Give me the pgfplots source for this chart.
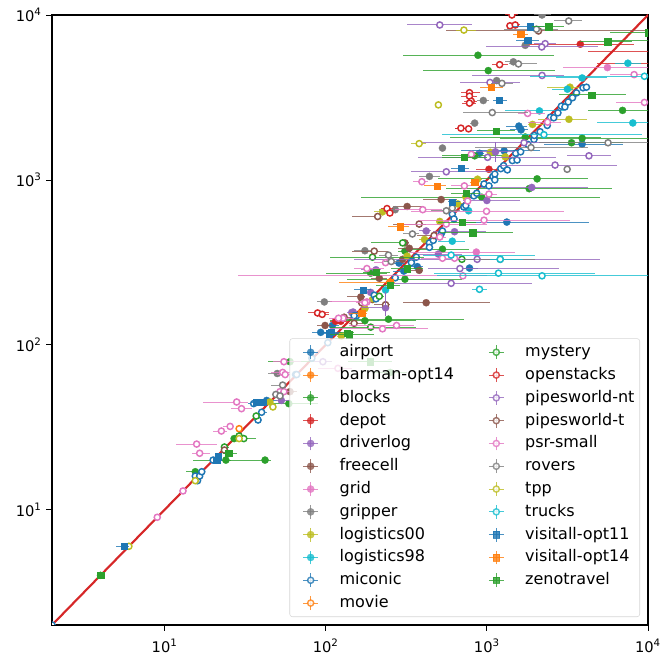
\documentclass[border=0pt]{standalone}
\usepackage{pgfplots}
\usepackage{pgfplotstable}
\usepackage{fontspec}
\setmainfont{DejaVu Sans}
\pgfplotsset{compat=1.18}
\definecolor{cblue}{HTML}{1F77B4}
\definecolor{corange}{HTML}{FF7F0E}
\definecolor{cgreen}{HTML}{2CA02C}
\definecolor{cred}{HTML}{D62728}
\definecolor{cpurple}{HTML}{9467BD}
\definecolor{cbrown}{HTML}{8C564B}
\definecolor{cpink}{HTML}{E377C2}
\definecolor{cgray}{HTML}{7F7F7F}
\definecolor{colive}{HTML}{BCBD22}
\definecolor{ccyan}{HTML}{17BECF}
\pgfplotstableread{
x y xl xh
1580 2120 1310 1780
1630 2010 1400 1800
3900 1650 2250 7000
1280 1500 690 2150
900 1450 830 960
1330 555 680 4300
370 298 300 400
285 313 255 310
305 280 260 330
780 292 640 880
110 131 100 120
93 119 82 104
43 46 36 50
}\tairport
\pgfplotstableread{
x y xl xh
250 240 250 250
}\tbarman
\pgfplotstableread{
x y xl xh
880 5700 300 2620
1020 4600 400 2650
6950 2640 4250 11000
11000 7050 6000 11000
1730 1820 590 5100
3900 1790 1200 11000
3350 1680 2100 7000
840 1400 530 1300
2050 1015 500 4250
1830 885 560 6000
930 785 165 5000
530 380 340 780
310 370 280 340
190 272 100 240
310 250 135 700
245 143 130 720
175 140 106 365
251 68 200 320
60 79 44 85
59 44 42 90
27 27 27 33
24 20 20 26
42 20 15 46
15.5 17 13.5 17
4 4 4 4
}\tblocks
\pgfplotstableread{
x y xl xh
3800 6650 1720 8200
11000 6000 4250 11000
11000 5100 4800 11000
1030 1160 860 1180
124 139 115 135
115 139 106 125
}\tdepot
\pgfplotstableread{
x y xl xh
1900 900 900 4250
1000 750 710 1600
420 490 380 450
630 485 460 990
500 355 380 700
205 285 165 220
190 208 175 205
145 157 135 165
148 158 140 160
53 46 49 60
}\tdriverlog
\pgfplotstableread{
x y xl xh
520 760 400 650
320 690 260 400
310 415 285 330
330 385 280 420
300 330 280 330
380 283 340 400
215 253 190 240
165 195 135 175
130 147 115 145
420 180 300 1050
99 131 88 108
60 52 57 66
}\tfreecell
\pgfplotstableread{
x y xl xh
5600 4800 2950 10000
860 365 330 1500
}\tgrid
\pgfplotstableread{
x y xl xh
2200 10000 1950 2500
1730 6550 1650 1850
1460 5200 1300 1580
1150 4000 1050 1270
950 3030 870 1030
840 2210 790 880
530 1560 530 530
440 1050 380 510
270 660 215 320
175 372 150 200
98 182 88 110
50 67 44 54
}\tgripper
\pgfplotstableread{
x y xl xh
3280 3650 2350 3900
3230 2330 2080 4200
1920 2170 1800 2250
1050 1470 1000 1100
1300 1380 1250 1350
875 1010 820 930
740 790 700 790
660 715 620 700
225 640 200 245
510 560 490 530
410 435 380 440
320 345 320 320
195 188 185 205
175 166 170 180
125 113 118 130
45 45 45 45
}\tlogisticsa
\pgfplotstableread{
x y xl xh
7500 5100 6200 9000
3900 4150 2700 5600
3160 3550 2550 3400
2120 2620 1290 3020
8050 2215 4800 11000
770 650 740 800
610 425 500 730
235 215 225 245
}\tlogisticsb
\pgfplotstableread{
x y xl xh
2 2 2 2
15.5 16 15.5 15.5
16 15 16 16
16.5 16 16.5 16.5
17 17 17 17
20 20 20 20
35.7 44 33 36
38 35 38 38
40 39 39 43
65 66 65 65
66 66 66 66
82 83 82 82
103 103 103 103
155 150 155 155
150 150 150 150
200 200 200 200
205 190 205 205
270 255 270 270
340 320 340 340
340 315 340 340
365 340 365 365
440 415 440 440
440 390 440 440
465 430 465 465
520 470 520 520
530 490 530 530
610 620 610 610
625 580 625 625
720 685 720 720
740 700 740 740
830 800 830 830
865 830 865 865
960 945 960 960
1030 920 1030 1030
1090 1050 1090 1090
1120 1085 1120 1120
1120 1000 1120 1120
1220 1170 1220 1220
1270 1220 1270 1270
1340 1150 1340 1340
1440 1310 1440 1440
1540 1320 1540 1540
1510 1450 1510 1510
1620 1480 1620 1620
1800 1640 1800 1800
1960 1760 1960 1960
1970 1860 1970 1970
2140 1960 2140 2140
2370 2140 2370 2370
2480 2400 2480 2480
2600 2380 2600 2600
2760 2550 2760 2760
2900 2800 2900 2900
3050 2770 3050 3050
3200 2970 3200 3200
3400 3150 3400 3400
3600 3370 3600 3600
3950 3620 3950 3950
4150 3650 4150 4150
}\tmiconic
\pgfplotstableread{
x y xl xh
29 31 29 29
}\tmovie
\pgfplotstableread{
x y xl xh
300 415 190 320
195 340 107 410
190 128 106 365
215 197 200 230
700 330 620 1080
37 37 37 37
29 28 28 30
31 27 30 37
23.5 24 23 25
}\tmystery
\pgfplotstableread{
x y xl xh
1430 10000 1300 1550
1390 8600 1350 1500
1500 8700 1400 1600
1200 5000 1070 1350
780 3380 690 900
780 3220 690 870
800 3000 720 870
780 2920 700 860
690 2060 630 810
770 2040 630 810
240 670 220 260
250 630 240 260
89 156 78 105
95 153 85 105
}\topenstacks
\pgfplotstableread{
x y xl xh
510 8700 320 810
2300 6700 1950 2700
2190 6400 985 4860
2200 4300 810 3000
1045 3900 680 1600
1700 1680 390 2650
1130 1480 850 1500
1010 1370 375 2700
4300 1400 3160 5900
2650 1230 1200 6400
560 1120 340 1080
870 330 150 5000
680 290 430 2800
600 236 245 1900
235 168 165 240
96 79 85 110
}\tpipesnt
\pgfplotstableread{
x y xl xh
2090 8000 560 10000
210 600 145 210
380 540 260 420
470 460 370 530
200 370 145 245
150 135 140 170
167 180 165 200
235 175 200 250
23.5 23 23.5 24
}\tpipest
\pgfplotstableread{
x y xl xh
800 1430 750 860
395 975 350 430
725 920 600 830
1030 820 900 1150
760 745 760 760
400 660 270 530
995 645 340 3000
560 540 280 1000
960 570 380 3300
510 450 450 560
530 335 390 680
630 335 600 680
180 290 150 230
235 315 200 270
710 262 28.6 1000
180 182 106 180
128 145 110 150
120 145 105 130
275 131 140 355
225 125 106 430
175 180 155 190
8200 4350 5800 10000
9500 2950 6300 10000
1790 2530 1550 2300
2380 2240 1800 2900
119 72 90 145
55 79 47 70
54 68 46 60
56 66 50 60
52 52 50 55
55 52 51 60
28 45 17.2 33
30 41 26 35
25.5 32 23 27
22.5 30 20 24.5
15.8 25 11.7 21
16.5 22 14.7 19
13 13 13 13
9 9 9 9
}\tpsr
\pgfplotstableread{
x y xl xh
3220 9200 2600 3900
2030 8200 1270 2780
1570 5050 1370 2050
1240 3850 1060 1460
1080 2560 710 1800
1880 1570 840 4250
5650 1680 2150 10000
3150 1160 3100 3300
560 650 450 680
610 675 610 610
345 470 300 380
245 350 215 280
255 320 230 290
1210 330 700 2000
54 57 46 54
49 50 49 49
52 49 52 52
}\trovers
\pgfplotstableread{
x y xl xh
720 8100 640 860
500 2850 500 500
380 1660 340 420
47 42 47 47
29 27 29 29
15.5 15 15.5 15.5
6 6 6 6
}\ttpp
\pgfplotstableread{
x y xl xh
9500 4250 1850 11000
2260 1880 530 9200
600 350 400 2000
1210 330 1050 1670
1180 272 470 4700
2200 262 490 12000
900 217 810 1000
}\ttrucks
\pgfplotstableread{
x y xl xh
1860 8500 1450 2250
1790 7050 1520 2100
1190 3040 1090 1340
610 735 570 680
690 1180 600 780
170 215 150 190
105 117 95 120
108 119 95 125
5.6 6 5 6
21 20 20 21.5
21.5 21 21 22
37 45 35 42
39 45 37 42
41 45 38 43
}\tvisitalla
\pgfplotstableread{
x y xl xh
1620 7650 1450 1800
1060 3650 900 1260
490 920 410 560
840 970 790 880
290 520 245 330
250 240 120 270
167 155 140 180
}\tvisitallb
\pgfplotstableread{
x y xl xh
2420 8500 1900 3000
5600 6900 3800 7900
10000 7800 5800 11000
4460 3280 2800 7300
1140 1980 870 1500
720 1370 530 1000
745 830 600 900
700 555 500 850
815 480 510 1450
320 290 255 400
205 275 170 250
250 230 205 290
189 79 138 258
140 115 106 200
136 118 120 150
25 22 23 28
4 4 4 4
}\tzeno
\pgfplotstableread{
x y yl yh
1130 1480 1280 1700
235 168 150 210
}\tpipesy
\pgfplotsset{
  ebarlegend/.style={legend image code/.code={
    \draw[##1,line width=.7pt] (0pt,0pt)--(11pt,0pt);
    \draw[##1,line width=.7pt] (5.5pt,-5.2pt)--(5.5pt,5.2pt);
    \draw[##1] plot coordinates {(5.5pt,0pt)};
    \path (-7pt,0pt) (26pt,0pt);
  }},
}
\newcommand\ser[6]{%
  \addplot[only marks,color=#2,mark=#3,mark size=#5,
    mark options={solid,fill=#4,line width=#6},
    ebarlegend,
    error bars/.cd,x dir=both,x explicit,error mark=none,
    error bar style={line width=.75pt,opacity=.8}]
    table[x=x,y=y,x error plus expr=\thisrow{xh}-\thisrow{x},x error minus expr=\thisrow{x}-\thisrow{xl}] {#1};%
}
\begin{document}
\begin{tikzpicture}
\path[use as bounding box] (-39pt,-24pt) rectangle (456.75pt,468.75pt);
\begin{axis}[
  at={(0,0)},anchor=south west,scale only axis,width=447pt,height=457.5pt,
  xmode=log,ymode=log,log basis x=10,log basis y=10,
  xmin=2,xmax=10000,ymin=2,ymax=10000,
  clip marker paths=true,
  xtick={1,10,100,1000,10000},ytick={1,10,100,1000,10000},
  xticklabel={\pgfmathtruncatemacro\e{round(\tick)}10\textsuperscript{\e}},
  yticklabel={\pgfmathtruncatemacro\e{round(\tick)}10\textsuperscript{\e}},
  xtick pos=bottom,ytick pos=left,tick align=outside,
  major tick length=4.2pt,minor tick length=2.4pt,
  every tick/.style={black,line width=.6pt},
  minor tick style={black,line width=.45pt},
  axis line style={line width=.8pt},
  tick label style={font=\fontsize{11}{13}\selectfont},
  xticklabel style={yshift=-3pt},
  legend columns=12,transpose legend,
  legend style={at={(0.9866,0.0131)},anchor=south east,fill=white,fill opacity=.8,draw opacity=.8,text opacity=1,
    draw=gray!40,rounded corners=2pt,font=\fontsize{12}{14}\selectfont,
    row sep=2.6pt,inner sep=3pt,
    /tikz/column 2/.style={column sep=18pt},
    nodes={anchor=west,inner xsep=1pt,inner ysep=1.5pt,text height=9pt,text depth=2.5pt}},
]
\addplot[forget plot,cred,line width=1.6pt] coordinates {(2,2)(10000,10000)};
\ser{\tairport}{cblue}{*}{cblue}{2.7pt}{.2pt}\addlegendentry{airport}
\ser{\tbarman}{corange}{*}{corange}{2.7pt}{.2pt}\addlegendentry{barman-opt14}
\ser{\tblocks}{cgreen}{*}{cgreen}{2.7pt}{.2pt}\addlegendentry{blocks}
\ser{\tdepot}{cred}{*}{cred}{2.7pt}{.2pt}\addlegendentry{depot}
\ser{\tdriverlog}{cpurple}{*}{cpurple}{2.7pt}{.2pt}\addlegendentry{driverlog}
\ser{\tfreecell}{cbrown}{*}{cbrown}{2.7pt}{.2pt}\addlegendentry{freecell}
\ser{\tgrid}{cpink}{*}{cpink}{2.7pt}{.2pt}\addlegendentry{grid}
\ser{\tgripper}{cgray}{*}{cgray}{2.7pt}{.2pt}\addlegendentry{gripper}
\ser{\tlogisticsa}{colive}{*}{colive}{2.7pt}{.2pt}\addlegendentry{logistics00}
\ser{\tlogisticsb}{ccyan}{*}{ccyan}{2.7pt}{.2pt}\addlegendentry{logistics98}
\ser{\tmiconic}{cblue}{*}{white}{2.3pt}{1.1pt}\addlegendentry{miconic}
\ser{\tmovie}{corange}{*}{white}{2.3pt}{1.1pt}\addlegendentry{movie}
\ser{\tmystery}{cgreen}{*}{white}{2.3pt}{1.1pt}\addlegendentry{mystery}
\ser{\topenstacks}{cred}{*}{white}{2.3pt}{1.1pt}\addlegendentry{openstacks}
\ser{\tpipesnt}{cpurple}{*}{white}{2.3pt}{1.1pt}\addlegendentry{pipesworld-nt}
\ser{\tpipest}{cbrown}{*}{white}{2.3pt}{1.1pt}\addlegendentry{pipesworld-t}
\ser{\tpsr}{cpink}{*}{white}{2.3pt}{1.1pt}\addlegendentry{psr-small}
\ser{\trovers}{cgray}{*}{white}{2.3pt}{1.1pt}\addlegendentry{rovers}
\ser{\ttpp}{colive}{*}{white}{2.3pt}{1.1pt}\addlegendentry{tpp}
\ser{\ttrucks}{ccyan}{*}{white}{2.3pt}{1.1pt}\addlegendentry{trucks}
\ser{\tvisitalla}{cblue}{square*}{cblue}{2.4pt}{.2pt}\addlegendentry{visitall-opt11}
\ser{\tvisitallb}{corange}{square*}{corange}{2.4pt}{.2pt}\addlegendentry{visitall-opt14}
\ser{\tzeno}{cgreen}{square*}{cgreen}{2.4pt}{.2pt}\addlegendentry{zenotravel}
\addlegendimage{empty legend}\addlegendentry{}
\addplot[forget plot,only marks,mark=none,color=cpurple,
  error bars/.cd,y dir=both,y explicit,error mark=none,error bar style={line width=.7pt}]
  table[x=x,y=y,y error plus expr=\thisrow{yh}-\thisrow{y},y error minus expr=\thisrow{y}-\thisrow{yl}] {\tpipesy};
\end{axis}
\end{tikzpicture}
\end{document}
